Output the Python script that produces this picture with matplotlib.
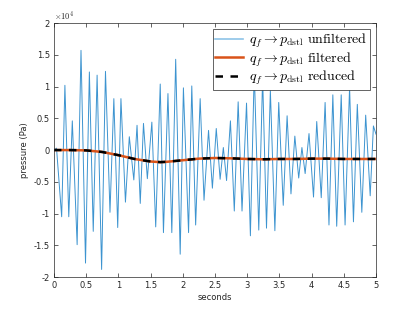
import matplotlib
matplotlib.use("Agg")
import matplotlib.pyplot as plt
from matplotlib.ticker import FuncFormatter

# unfiltered pressure, extrema (units of 1e4 Pa)
t_unf = [0.00, 0.04, 0.12, 0.17, 0.23, 0.285, 0.36, 0.42, 0.49, 0.55,
         0.61, 0.67, 0.74, 0.80, 0.87, 0.93, 0.99, 1.04, 1.11, 1.17,
         1.24, 1.29, 1.34, 1.39, 1.45, 1.52, 1.58, 1.65, 1.70, 1.77,
         1.83, 1.89, 1.96, 2.01, 2.09, 2.14, 2.20, 2.27, 2.33, 2.40,
         2.46, 2.52, 2.58, 2.63, 2.68, 2.74, 2.80, 2.86, 2.92, 2.99,
         3.05, 3.11, 3.18, 3.24, 3.30, 3.36, 3.43, 3.49, 3.56, 3.62,
         3.68, 3.74, 3.80, 3.85, 3.90, 3.96, 4.03, 4.08, 4.15, 4.21,
         4.27, 4.33, 4.39, 4.46, 4.52, 4.59, 4.65, 4.71, 4.78, 4.84,
         4.91, 4.96, 5.00]
p_unf = [0.00, 0.03, -1.05, 1.02, -1.05, 0.46, -1.49, 1.57, -1.78, 1.23,
         -1.28, 1.18, -1.88, 1.24, -0.98, 0.81, -1.22, 0.81, -0.82, 0.21,
         -0.47, 0.39, -0.84, 0.42, -0.45, 0.44, -1.21, 1.04, -1.30, 0.89,
         -1.30, 1.43, -1.64, 0.98, -1.30, 1.01, -1.18, 0.81, -0.79, 0.31,
         -0.60, 0.34, -0.46, 0.04, -0.48, 0.46, -0.96, 0.76, -0.96, 0.74,
         -1.35, 1.25, -1.26, 1.15, -1.23, 0.94, -1.27, 0.75, -0.87, 0.54,
         -0.69, 0.22, -0.44, 0.04, -0.37, 0.26, -0.74, 0.45, -0.75, 0.75,
         -1.18, 0.87, -1.20, 0.87, -1.18, 0.99, -1.13, 0.72, -0.98, 0.55,
         -0.72, 0.38, 0.25]

# filtered / reduced response (units of 1e4 Pa)
t_filt = [0.0, 0.25, 0.5, 0.75, 1.0, 1.25, 1.5, 1.65, 1.75, 2.0, 2.25,
          2.5, 2.75, 3.0, 3.25, 3.5, 3.75, 4.0, 4.25, 4.5, 4.75, 5.0]
p_filt = [0.0, 0.0, -0.005, -0.03, -0.08, -0.14, -0.18, -0.19, -0.185,
          -0.16, -0.135, -0.125, -0.13, -0.14, -0.145, -0.14, -0.14,
          -0.135, -0.135, -0.14, -0.14, -0.14]
p_red = p_filt

x_ticks = [0, 0.5, 1, 1.5, 2, 2.5, 3, 3.5, 4, 4.5, 5]
y_ticks = [-2, -1.5, -1, -0.5, 0, 0.5, 1, 1.5, 2]

plt.rcParams['mathtext.fontset'] = 'cm'
plt.rcParams['axes.unicode_minus'] = False

fig = plt.figure(figsize=(4.15, 3.12), dpi=100)
ax = fig.add_axes([0.130, 0.112, 0.776, 0.814])

ax.plot(t_unf, p_unf, color='#3d94d0', linewidth=0.7,
        label=r'$q_f \rightarrow p_{\mathrm{dstl}}\ \mathrm{unfiltered}$')
ax.plot(t_filt, p_filt, color='#D95319', linewidth=1.8,
        label=r'$q_f \rightarrow p_{\mathrm{dstl}}\ \mathrm{filtered}$')
ax.plot(t_filt, p_red, color='black', linewidth=1.8, linestyle=(0, (3, 3)),
        label=r'$q_f \rightarrow p_{\mathrm{dstl}}\ \mathrm{reduced}$')

ax.set_xlim(0, 5)
ax.set_ylim(-2, 2)
ax.set_xticks(x_ticks)
ax.set_yticks(y_ticks)
ax.yaxis.set_major_formatter(FuncFormatter(lambda v, pos: '%g' % v))
ax.xaxis.set_major_formatter(FuncFormatter(lambda v, pos: '%g' % v))
ax.tick_params(direction='in', top=True, right=True, length=3, width=0.5,
               labelsize=6, colors='#262626', pad=3)
for s in ax.spines.values():
    s.set_linewidth(0.5)
    s.set_color('#262626')

ax.text(0.0, 1.005, r'$\times 10^4$', transform=ax.transAxes, fontsize=6,
        color='#262626', ha='left', va='bottom', family='DejaVu Sans')
ax.set_xlabel('seconds', fontsize=6, color='#262626', labelpad=2)
ax.set_ylabel('pressure (Pa)', fontsize=6, color='#262626', labelpad=3)

leg = ax.legend(loc='upper right', fontsize=10, fancybox=False,
                framealpha=1, edgecolor='#262626', borderpad=0.2,
                labelspacing=0.0, handlelength=2.0, handletextpad=0.4,
                borderaxespad=0.45)
leg.get_frame().set_linewidth(0.5)
leg.get_lines()[0].set_linewidth(1.2)
leg.get_lines()[0].set_color('#8ec3e8')

fig.savefig('out.png', dpi=100)
